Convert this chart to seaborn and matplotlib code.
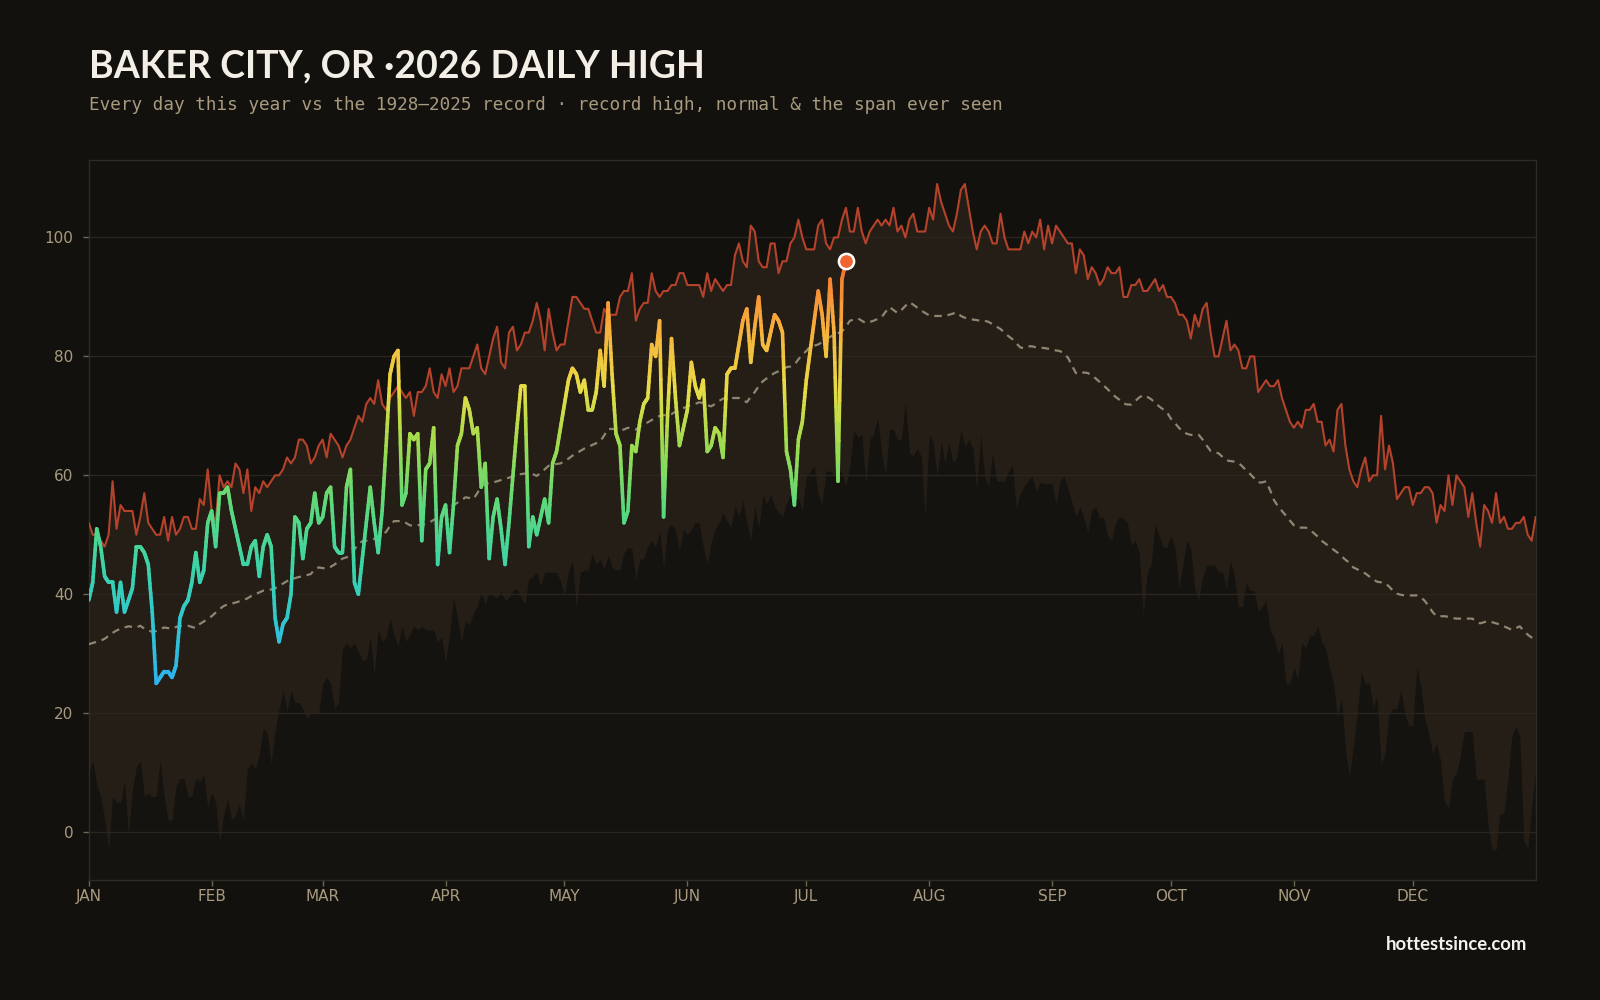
import numpy as np
import pandas as pd
import matplotlib
matplotlib.use("Agg")
import matplotlib.pyplot as plt
import seaborn as sns
from matplotlib.collections import LineCollection
from matplotlib.colors import LinearSegmentedColormap, Normalize

# ---------------- data ----------------
month_labels = ["JAN", "FEB", "MAR", "APR", "MAY", "JUN",
                "JUL", "AUG", "SEP", "OCT", "NOV", "DEC"]
month_start_day = [0, 31, 59, 90, 120, 151, 181, 212, 243, 273, 304, 334]
y_ticks = [0, 20, 40, 60, 80, 100]

record_high = [
    52, 50, 50, 49, 48, 50, 59, 51, 55, 54,
    54, 54, 50, 53, 57, 52, 51, 50, 50, 53,
    49, 53, 50, 51, 53, 53, 51, 51, 56, 55,
    61, 54, 52, 60, 58, 59, 58, 62, 61, 57,
    61, 54, 58, 57, 59, 58, 59, 60, 60, 61,
    63, 62, 63, 66, 66, 65, 62, 63, 65, 66,
    63, 67, 66, 65, 63, 65, 66, 68, 70, 69,
    72, 73, 72, 76, 72, 71, 73, 74, 75, 74,
    73, 74, 70, 74, 74, 75, 78, 74, 73, 77,
    75, 78, 74, 75, 78, 78, 78, 80, 82, 78,
    77, 80, 83, 85, 79, 78, 84, 85, 81, 82,
    84, 84, 86, 89, 86, 81, 88, 84, 81, 82,
    82, 86, 90, 90, 89, 88, 88, 86, 84, 84,
    88, 87, 87, 87, 90, 91, 91, 94, 86, 88,
    89, 89, 94, 91, 90, 91, 91, 92, 92, 94,
    94, 92, 92, 92, 92, 90, 94, 91, 93, 92,
    91, 92, 92, 97, 99, 96, 95, 102, 101, 96,
    95, 95, 99, 99, 94, 96, 96, 99, 100, 103,
    100, 98, 98, 98, 102, 103, 99, 98, 100, 100,
    103, 105, 101, 101, 105, 101, 99, 101, 102, 103,
    102, 103, 102, 105, 101, 102, 100, 103, 104, 101,
    101, 101, 105, 103, 109, 106, 104, 102, 101, 104,
    108, 109, 105, 101, 98, 101, 102, 101, 99, 99,
    104, 100, 98, 98, 98, 98, 101, 99, 101, 100,
    103, 98, 102, 99, 102, 101, 100, 99, 99, 94,
    98, 97, 93, 95, 94, 92, 93, 95, 94, 94,
    95, 90, 90, 92, 92, 93, 91, 91, 92, 93,
    91, 92, 90, 90, 89, 87, 87, 86, 83, 87,
    85, 88, 89, 84, 80, 80, 83, 86, 81, 82,
    81, 78, 78, 80, 80, 74, 75, 76, 75, 75,
    76, 73, 71, 69, 68, 69, 68, 71, 71, 72,
    69, 69, 65, 66, 64, 71, 72, 65, 61, 59,
    58, 61, 63, 59, 60, 60, 70, 61, 65, 62,
    56, 57, 58, 58, 55, 57, 57, 58, 58, 57,
    52, 55, 54, 60, 55, 60, 59, 58, 53, 57,
    52, 48, 55, 54, 52, 57, 52, 53, 51, 51,
    52, 52, 53, 50, 49, 53,
]

record_low = [
    10, 12, 8, 6, 2, -3, 6, 5, 5, 8.5,
    -0.5, 7, 11, 12, 6, 6.5, 6, 6, 12, 6,
    2, 2, 7.7, 9, 9, 6, 6, 9, 8.5, 9.7,
    4.2, 6.7, 5, -1.6, 2.7, 5.6, 2, 2.8, 4.6, 2,
    10.6, 11.7, 10.6, 13, 17.5, 16.7, 11.5, 17, 20.7, 23.8,
    20.3, 23.8, 21.8, 21.8, 20.7, 19.1, 20, 20, 20, 25,
    26, 25, 20.7, 21.8, 30.8, 31.8, 31, 31.8, 30.4, 28.9,
    28.9, 32.8, 26.5, 34, 32, 32.8, 35.9, 33.2, 31.2, 34.7,
    32, 33.2, 34.7, 34, 34.6, 34, 34, 34, 32, 32.8,
    28.5, 33.2, 39.4, 36, 32, 35.5, 34.9, 36.7, 38, 40.2,
    38.3, 40.2, 39.8, 39.4, 40.6, 39, 39.4, 40.6, 41, 39.5,
    38.3, 42.6, 43, 43.7, 41.4, 43.7, 43.7, 43.7, 43.7, 42.2,
    39.8, 43.7, 45.7, 37.5, 43.7, 44, 44.1, 46.9, 44.9, 45.9,
    44.1, 46.5, 44.5, 44.1, 44.1, 46.9, 47.9, 47.6, 42.4, 45.9,
    46, 48, 49, 48, 50.5, 44.3, 50.9, 51.8, 50.8, 47.3,
    50.9, 50, 50.9, 52, 52, 48, 45, 48.7, 50.9, 52,
    53.7, 52.2, 51.2, 54.9, 53.1, 55.7, 52, 49, 54.9, 51.2,
    56.8, 55.2, 56.7, 54.8, 53.7, 53.1, 55.2, 56.8, 55.9, 56.2,
    54, 59.8, 60.7, 61.7, 56.7, 55.1, 60.7, 60.7, 59.9, 60.7,
    60.5, 58.2, 61.7, 67.6, 66.4, 66.8, 58.4, 65.9, 67, 69.6,
    63.7, 59.9, 67.7, 67.7, 66, 66, 72.5, 63.7, 63.3, 64.6,
    63.1, 52.9, 66.8, 65.6, 59.8, 65.6, 62.1, 65.6, 62.1, 63.1,
    67.6, 64.9, 66, 64.6, 57.4, 66.8, 59.8, 58.2, 63.7, 59,
    59, 59, 60.6, 61.7, 54.3, 57, 58.2, 59.2, 59.9, 57.3,
    58.8, 58.6, 58.6, 58.6, 55.1, 59, 59.9, 57.8, 55.5, 53.1,
    54.7, 52.8, 50.4, 54.1, 54.7, 52.9, 52.9, 49.8, 49, 52,
    52.9, 52.8, 52, 48.2, 49, 46.9, 36.3, 43.7, 44.9, 51.8,
    49.8, 47.9, 47.9, 49.8, 47.7, 41, 44.9, 49, 47.7, 41,
    39, 43, 44.9, 44.9, 44.9, 43.7, 43.7, 41, 45.7, 43,
    37.9, 37.9, 41.9, 40.6, 40.6, 37.1, 37.9, 38.8, 34, 32.8,
    30, 31.8, 25, 25, 27.7, 25.7, 31.8, 31, 33, 33,
    34.6, 32, 30.8, 27.7, 25, 19.1, 22.6, 14, 9.3, 14.4,
    20, 26.9, 25, 25, 21, 22.8, 11.3, 13.2, 19.9, 20.8,
    20.8, 23.8, 19.9, 17.9, 17.9, 27.7, 24.6, 19.1, 16.7, 13.2,
    14.8, 12, 5, 4.1, 8.9, 9.9, 12.8, 16.9, 16.9, 16.9,
    8.9, 8.9, 8.9, 1.1, -3, -3, 3.1, 3.1, 8.9, 16,
    17.9, 16, -1.3, -2.8, 4.2, 10.5,
]

normal_high = [
    31.6, 31.8, 32, 32.2, 32.5, 33, 33.5, 33.9, 34.2, 34.4,
    34.6, 34.5, 34.4, 34.7, 34.2, 33.9, 33.7, 33.8, 34.1, 34.4,
    34.3, 34.2, 34.5, 34.7, 34.7, 34.7, 34.5, 34.3, 35, 35.4,
    35.9, 36.3, 36.9, 37.5, 38, 38.3, 38.4, 38.6, 38.8, 39,
    39.3, 39.7, 40, 40.3, 40.6, 40.7, 40.8, 41, 41.4, 41.8,
    42.2, 42.5, 42.7, 42.9, 43, 43.2, 43.4, 44.2, 44.5, 44.4,
    44.3, 44.6, 45, 45.5, 46, 46.2, 46.6, 47.5, 48.5, 48.9,
    49, 49.1, 49.3, 49.6, 49.9, 50.5, 51.5, 52.3, 52.3, 52.3,
    52, 51.6, 51.5, 51.6, 51.7, 51.8, 52.1, 52.5, 52.9, 53.4,
    53.9, 54.5, 55, 55.4, 55.8, 56.3, 56.2, 56, 57, 58.2,
    58.5, 58.7, 58.8, 59, 59.2, 59.4, 59.6, 59.8, 60.1, 60.2,
    60.3, 60.4, 60.2, 59.9, 60.4, 61, 61.6, 61.8, 61.9, 62,
    62.4, 62.8, 63.3, 63.7, 64.1, 64.5, 64.8, 65.1, 65.4, 65.7,
    66.7, 67.8, 67.8, 67.7, 67.6, 67.7, 68, 67.8, 67.7, 68.2,
    68.6, 68.9, 69.3, 69.6, 70, 70.1, 70.2, 70.3, 70.7, 71,
    71.3, 71.6, 71.8, 72, 72.3, 72.1, 71.8, 71.6, 72, 72.5,
    72.9, 73, 73, 73, 73, 72.6, 72.3, 73.2, 74, 75,
    75.8, 76.3, 76.8, 77.2, 77.5, 77.9, 78.2, 78.3, 78.6, 79.5,
    80.3, 80.9, 81.7, 81.8, 82, 82.4, 82.8, 83.3, 83.6, 83.9,
    84.2, 85, 86, 86.2, 86.4, 86, 85.6, 85.8, 86, 86.3,
    86.6, 87.5, 88.3, 87.8, 87.3, 87.8, 88.5, 89.1, 88.7, 88.2,
    87.7, 87.3, 86.9, 86.8, 86.8, 86.8, 86.8, 87, 87.2, 87.4,
    86.8, 86.5, 86.4, 86.2, 86.1, 86, 86, 85.8, 85.4, 85,
    84.6, 84, 83.4, 82.9, 82.2, 81.5, 81.4, 81.7, 81.7, 81.5,
    81.5, 81.4, 81.3, 81.2, 81, 80.9, 80.4, 79.8, 78.5, 77.2,
    77, 77.3, 77.2, 76.8, 76.3, 75.7, 75.1, 74.5, 73.8, 73.2,
    72.7, 72.1, 71.9, 71.9, 72.5, 73.1, 73.5, 73.2, 72.8, 72.2,
    71.6, 71.1, 70.6, 69.5, 68.8, 68, 67.3, 67, 66.8, 66.8,
    66.8, 66, 65, 64.1, 63.9, 63.7, 63.1, 62.5, 62.4, 62.3,
    62.1, 61.5, 60.8, 60.2, 59.5, 58.8, 58.8, 59, 57.5, 55.8,
    54.8, 54, 53.2, 52.4, 51.6, 51.2, 51.2, 51.2, 50.8, 50.3,
    49.7, 49, 48.5, 48, 47.5, 47, 46.4, 45.8, 45.3, 44.5,
    44.2, 43.8, 43.5, 43, 42.5, 42.1, 42, 41.9, 41.3, 40.6,
    40.1, 39.9, 39.8, 39.8, 39.8, 39.8, 39.5, 38.9, 38, 37,
    36.3, 36.3, 36.3, 36.2, 36, 35.9, 35.9, 35.9, 35.9, 35.9,
    35.4, 35.1, 35.3, 35.5, 35.3, 35.1, 34.9, 34.6, 34.3, 34,
    34.3, 34.6, 33.8, 33.2, 32.7, 32.2,
]

daily_2026 = [
    39, 42, 51, 48, 43, 42, 42, 37, 42, 37,
    39, 41, 48, 48, 47, 45, 37, 25, 26, 27,
    27, 26, 28, 36, 38, 39, 42, 47, 42, 44,
    52, 54, 48, 57, 57, 58, 54, 51, 48, 45,
    45, 48, 49, 43, 48, 50, 48, 36, 32, 35,
    36, 40, 53, 52, 46, 51, 52, 57, 52, 53,
    57, 58, 48, 47, 47, 58, 61, 42, 40, 46,
    52, 58, 52, 47, 54, 65, 77, 80, 81, 55,
    57, 67, 66, 67, 49, 61, 62, 68, 45, 53,
    55, 47, 55, 65, 67, 73, 71, 67, 68, 58,
    62, 46, 53, 56, 51, 45, 52, 60, 68, 75,
    75, 48, 53, 50, 53, 56, 52, 62, 64, 68,
    72, 76, 78, 77, 74, 76, 71, 71, 74, 81,
    75, 89, 77, 67, 65, 52, 54, 65, 64, 69,
    72, 73, 82, 80, 86, 53, 70, 83, 73, 65,
    68, 71, 79, 75, 73, 76, 64, 65, 68, 67,
    63, 77, 78, 78, 82, 86, 88, 79, 85, 90,
    82, 81, 84, 87, 86, 84, 64, 61, 55, 66,
    69, 76, 81, 86, 91, 87, 80, 93, 84, 59,
    93, 96,
]

title_text = "BAKER CITY, OR \u00b72026 DAILY HIGH"
subtitle_text = ("Every day this year vs the 1928\u20132025 record \u00b7 "
                 "record high, normal & the span ever seen")
footer_text = "hottestsince.com"

# ---------------- style ----------------
BG = "#13110d"
BAND = "#241e16"
BELOW = "#151310"
GRID = "#2a251f"
SPINE = "#2f2a23"
TICK = "#a89a7f"
REC_HIGH_C = "#b5432b"
NORMAL_C = "#8f8572"

sns.set_theme(style="dark", rc={
    "axes.facecolor": BG,
    "figure.facecolor": BG,
    "savefig.facecolor": BG,
})
plt.rcParams["font.family"] = ["DejaVu Sans"]

fig = plt.figure(figsize=(16, 10), dpi=100)
ax = fig.add_axes([0.0555, 0.1204, 0.9043, 0.7194])
ax.set_facecolor(BG)

YMIN, YMAX = -8, 113
days = np.arange(len(record_high))
df = pd.DataFrame({"day": days, "high": record_high,
                   "low": record_low, "normal": normal_high})

ax.fill_between(df["day"], YMIN, df["low"], color=BELOW, lw=0, zorder=1)
ax.fill_between(df["day"], df["low"], df["high"], color=BAND, lw=0, zorder=1.1)
for yv in y_ticks:
    ax.axhline(yv, color=GRID, lw=1, zorder=1.5)

sns.lineplot(data=df, x="day", y="normal", ax=ax, color=NORMAL_C,
             lw=1.6, zorder=3)
ax.lines[-1].set_dashes((3.4, 2.6))
sns.lineplot(data=df, x="day", y="high", ax=ax, color=REC_HIGH_C,
             lw=1.5, zorder=4)

# 2026 line coloured by temperature
cmap = LinearSegmentedColormap.from_list("temp", [
    (0.00, "#2fb2ec"),
    (0.14, "#30c6d2"),
    (0.28, "#3dd4a6"),
    (0.42, "#5ed97a"),
    (0.56, "#9edb4e"),
    (0.69, "#e9dc45"),
    (0.83, "#f7b03c"),
    (0.93, "#f58a35"),
    (1.00, "#ef5f2d"),
])
norm = Normalize(vmin=25, vmax=97)
x26 = np.arange(len(daily_2026), dtype=float)
y26 = np.asarray(daily_2026, dtype=float)
sub = 10
t = np.linspace(0, 1, sub + 1)
segs, vals = [], []
for i in range(len(x26) - 1):
    xs = x26[i] + (x26[i + 1] - x26[i]) * t
    ys = y26[i] + (y26[i + 1] - y26[i]) * t
    pts = np.column_stack([xs, ys])
    segs.extend(np.stack([pts[:-1], pts[1:]], axis=1))
    vals.extend((ys[:-1] + ys[1:]) / 2)
lc = LineCollection(segs, cmap=cmap, norm=norm, linewidths=2.6,
                    capstyle="round", joinstyle="round", zorder=5)
lc.set_array(np.asarray(vals))
ax.add_collection(lc)

sns.scatterplot(x=x26[-1:], y=y26[-1:], ax=ax, s=120, color="#ef6632",
                edgecolor="white", linewidth=1.8, zorder=6, legend=False)

ax.set_xlim(0, 365)
ax.set_ylim(YMIN, YMAX)
ax.set_xticks(month_start_day)
ax.set_xticklabels(month_labels)
ax.set_yticks(y_ticks)
ax.set_yticklabels([str(v) for v in y_ticks])
ax.set_xlabel("")
ax.set_ylabel("")
ax.grid(False)
ax.tick_params(axis="both", colors="#6f6553", labelcolor=TICK, labelsize=11,
               length=4, width=1, bottom=True, left=True)
ax.tick_params(axis="x", pad=3)
ax.tick_params(axis="y", pad=7)
for s in ax.spines.values():
    s.set_visible(True)
    s.set_color(SPINE)
    s.set_linewidth(1)

fig.text(0.0555, 0.9224, title_text, fontsize=27, fontweight="bold",
         color="#f3eee6", family=["Lato", "DejaVu Sans"], va="baseline")
fig.text(0.0555, 0.8898, subtitle_text, fontsize=12.7, color=TICK,
         family=["DejaVu Sans Mono"], va="baseline")
fig.text(0.9547, 0.050, footer_text, fontsize=13.3, fontweight="bold",
         color="#f5f2ec", family=["Lato", "DejaVu Sans"], ha="right",
         va="baseline")

fig.savefig("out.png", dpi=100, facecolor=BG)
